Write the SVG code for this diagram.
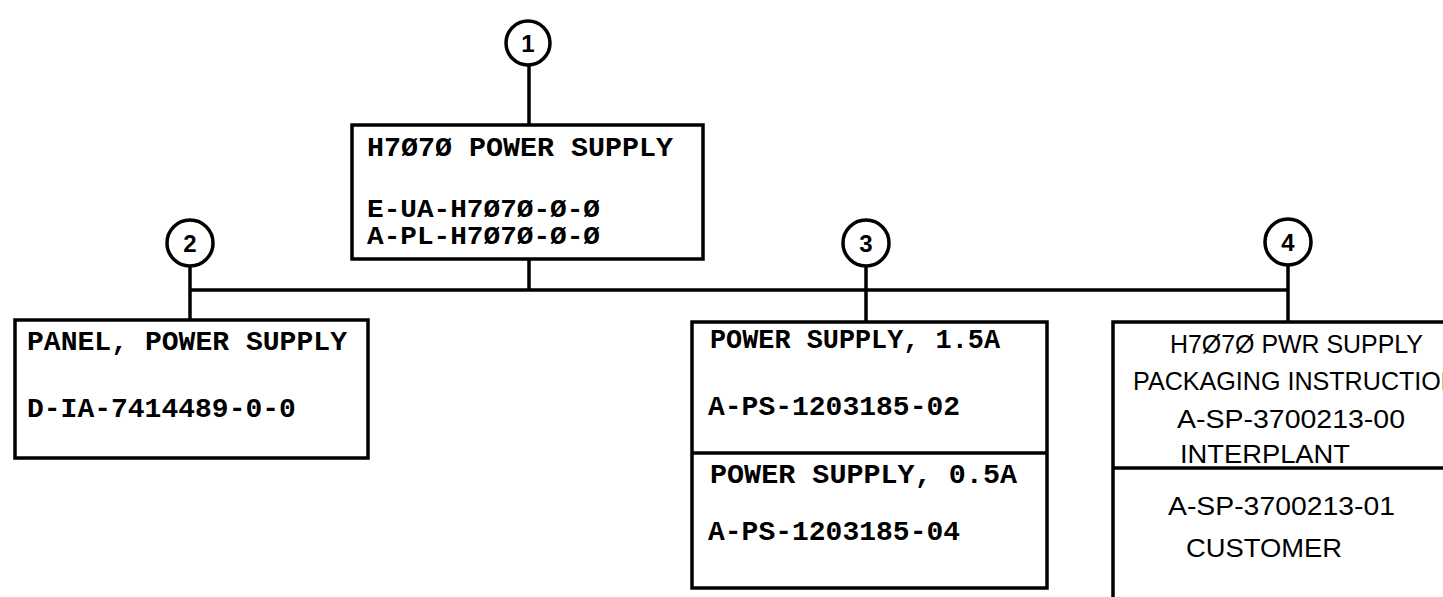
<svg xmlns="http://www.w3.org/2000/svg" width="1443" height="597" viewBox="0 0 1443 597">
<style>
.box{fill:#fff;stroke:#000;stroke-width:3.5}
.ln{stroke:#000;stroke-width:3.5;fill:none}
.bal{fill:#fff;stroke:#000;stroke-width:3.5}
.num{font-family:"Liberation Sans",Arial,sans-serif;font-weight:bold;font-size:24px;text-anchor:middle;fill:#000}
.tw{font-family:"Liberation Mono","Courier New",monospace;font-weight:bold;font-size:28px;fill:#000}
.tws{font-family:"Liberation Mono","Courier New",monospace;font-weight:bold;font-size:25px;fill:#000}
.le{font-family:"Liberation Sans",Arial,sans-serif;font-size:25px;fill:#000}
</style>
<rect width="1443" height="597" fill="#fff"/>
<g id="connectors">
<line class="ln" x1="529" y1="65" x2="529" y2="125"/>
<line class="ln" x1="529" y1="259" x2="529" y2="290"/>
<line class="ln" x1="190" y1="290" x2="1288" y2="290"/>
<line class="ln" x1="190" y1="266" x2="190" y2="320"/>
<line class="ln" x1="866" y1="266" x2="866" y2="322"/>
<line class="ln" x1="1288" y1="265" x2="1288" y2="322"/>
</g>
<g id="balloon1"><circle class="bal" cx="528" cy="43" r="22"/><text class="num" x="528" y="52">1</text></g>
<g id="balloon2"><circle class="bal" cx="190" cy="243" r="23"/><text class="num" x="190" y="252">2</text></g>
<g id="balloon3"><circle class="bal" cx="866" cy="243" r="23"/><text class="num" x="866" y="252">3</text></g>
<g id="balloon4"><circle class="bal" cx="1288" cy="242" r="23"/><text class="num" x="1288" y="251">4</text></g>
<g id="node1">
<rect class="box" x="352" y="125" width="351" height="134"/>
<text class="tw" x="367" y="156" textLength="306" lengthAdjust="spacingAndGlyphs">H7Ø7Ø POWER SUPPLY</text>
<text class="tws" x="367" y="217" textLength="233" lengthAdjust="spacingAndGlyphs">E-UA-H7Ø7Ø-Ø-Ø</text>
<text class="tws" x="367" y="244" textLength="233" lengthAdjust="spacingAndGlyphs">A-PL-H7Ø7Ø-Ø-Ø</text>
</g>
<g id="node2">
<rect class="box" x="15" y="320" width="353" height="138"/>
<text class="tw" x="27" y="350" textLength="320" lengthAdjust="spacingAndGlyphs">PANEL, POWER SUPPLY</text>
<text class="tw" x="27" y="417">D-IA-7414489-0-0</text>
</g>
<g id="node3">
<rect class="box" x="692" y="322" width="355" height="266"/>
<line class="ln" x1="692" y1="453" x2="1047" y2="453"/>
<text class="tw" x="710" y="348" textLength="290" lengthAdjust="spacingAndGlyphs">POWER SUPPLY, 1.5A</text>
<text class="tw" x="708" y="415">A-PS-1203185-02</text>
<text class="tw" x="710" y="483" textLength="307" lengthAdjust="spacingAndGlyphs">POWER SUPPLY, 0.5A</text>
<text class="tw" x="708" y="540">A-PS-1203185-04</text>
</g>
<g id="node4">
<rect class="box" x="1113" y="322" width="360" height="300"/>
<line class="ln" x1="1113" y1="468" x2="1460" y2="468"/>
<text class="le" x="1170" y="353" textLength="253" lengthAdjust="spacingAndGlyphs">H7Ø7Ø PWR SUPPLY</text>
<text class="le" x="1133" y="390" textLength="326" lengthAdjust="spacingAndGlyphs">PACKAGING INSTRUCTION</text>
<text class="le" x="1177" y="428" textLength="228" lengthAdjust="spacingAndGlyphs">A-SP-3700213-00</text>
<text class="le" x="1180" y="463" textLength="170" lengthAdjust="spacingAndGlyphs">INTERPLANT</text>
<text class="le" x="1168" y="515" textLength="227" lengthAdjust="spacingAndGlyphs">A-SP-3700213-01</text>
<text class="le" x="1186" y="557" textLength="156" lengthAdjust="spacingAndGlyphs">CUSTOMER</text>
</g>
</svg>
